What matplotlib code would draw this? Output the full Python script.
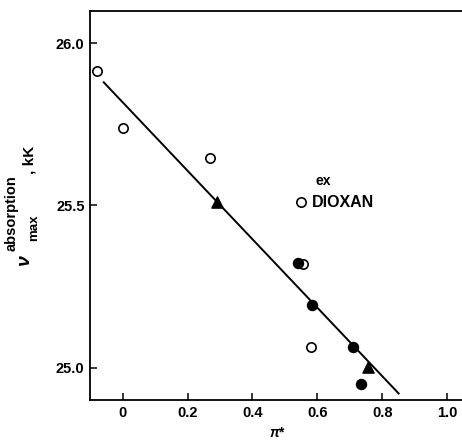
import matplotlib
matplotlib.use('Agg')
import matplotlib.pyplot as plt
import numpy as np

plt.rcParams['font.family'] = ['Liberation Sans', 'DejaVu Sans']
plt.rcParams['font.weight'] = 'bold'
plt.rcParams['mathtext.fontset'] = 'custom'
plt.rcParams['mathtext.rm'] = 'Liberation Sans:bold'
plt.rcParams['mathtext.it'] = 'Liberation Sans:italic:bold'
plt.rcParams['mathtext.bf'] = 'Liberation Sans:bold'

# open circles
open_x = [-0.08, 0.0, 0.27, 0.548, 0.556, 0.58]
open_y = [25.914, 25.74, 25.645, 25.51, 25.318, 25.062]
# filled circles
fill_x = [0.54, 0.583, 0.71, 0.733]
fill_y = [25.322, 25.194, 25.062, 24.948]
# triangles
tri_x = [0.29, 0.757]
tri_y = [25.512, 25.003]
# regression line end points
line_x = [-0.058, 0.85]
line_y = [25.88, 24.92]

x_ticks = [0, 0.2, 0.4, 0.6, 0.8, 1.0]
x_labels = ['0', '0.2', '0.4', '0.6', '0.8', '1.0']
y_ticks = [25.0, 25.5, 26.0]
y_labels = ['25.0', '25.5', '26.0']

W, H = 462, 440
fig = plt.figure(figsize=(W / 100, H / 100), dpi=100)
ax = fig.add_axes([0.195, 0.091, 0.805, 0.884])

ax.plot(line_x, line_y, color='black', lw=1.4)
ax.scatter(open_x, open_y, s=45, facecolors='white', edgecolors='black', linewidths=1.2, zorder=3)
ax.scatter(fill_x, fill_y, s=52, color='black', zorder=3)
ax.scatter(tri_x, tri_y, s=65, marker='^', color='black', zorder=3)

ax.text(0.583, 25.51, 'DIOXAN', fontsize=11.5, fontweight='bold', va='center', ha='left')
ax.text(0.593, 25.555, 'ex', fontsize=10, fontweight='bold', va='bottom', ha='left')

ax.set_xlim(-0.1, 1.045)
ax.set_ylim(24.9, 26.1)
ax.set_xticks(x_ticks)
ax.set_xticklabels(x_labels)
ax.set_yticks(y_ticks)
ax.set_yticklabels(y_labels)
ax.tick_params(direction='in', length=5, width=1.1, labelsize=10.5, pad=4)
ax.spines['right'].set_visible(False)
for s in ['left', 'top', 'bottom']:
    ax.spines[s].set_linewidth(1.3)

# x label
fig.text(278 / W, 1 - 433 / H, r'$\pi$*', fontsize=10, ha='center', va='center')

# y label built from pieces: nu, superscript, subscript, unit
def px(x, y):
    return x / W, 1 - y / H

fig.text(*px(25, 261), r'$\nu$', fontsize=14, rotation=90, ha='center', va='center')
fig.text(*px(12, 213), 'absorption', fontsize=10.5, fontweight='bold', rotation=90, ha='center', va='center')
fig.text(*px(34, 228), 'max', fontsize=9.5, fontweight='bold', rotation=90, ha='center', va='center')
fig.text(*px(29, 160), ', kK', fontsize=11, fontweight='bold', rotation=90, ha='center', va='center')

fig.savefig('out.png', dpi=100)
